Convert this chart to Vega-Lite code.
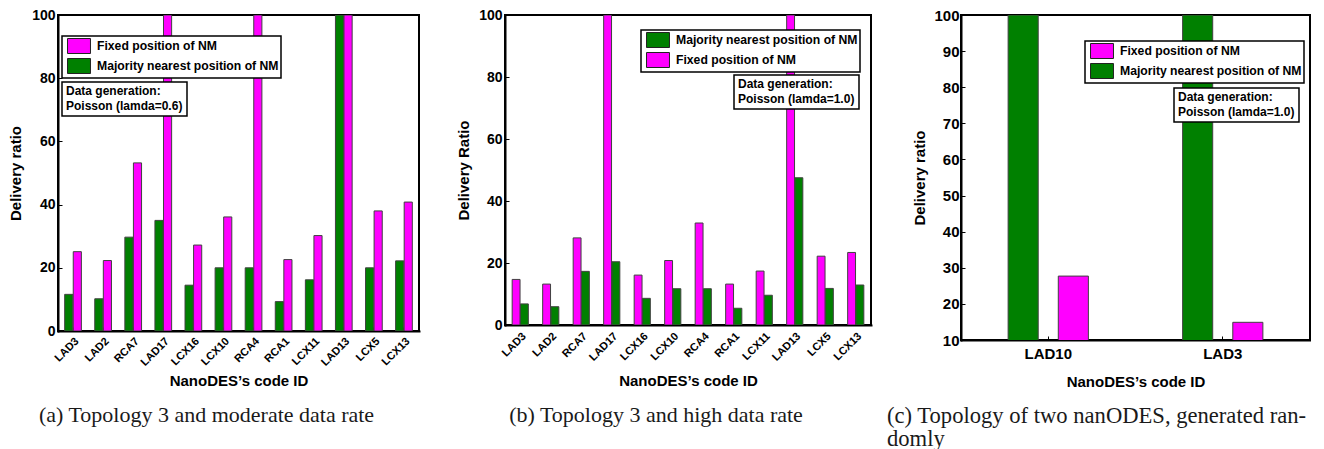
{
  "$schema": "https://vega.github.io/schema/vega-lite/v6.json",
  "padding": {"left": 7, "top": 7, "right": 0, "bottom": 0},
  "datasets": {
    "a": [
      {"id": "LAD3", "series": "Majority nearest position of NM", "value": 11.6},
      {"id": "LAD3", "series": "Fixed position of NM", "value": 25.1},
      {"id": "LAD2", "series": "Majority nearest position of NM", "value": 10.2},
      {"id": "LAD2", "series": "Fixed position of NM", "value": 22.3},
      {"id": "RCA7", "series": "Majority nearest position of NM", "value": 29.7},
      {"id": "RCA7", "series": "Fixed position of NM", "value": 53.2},
      {"id": "LAD17", "series": "Majority nearest position of NM", "value": 35.0},
      {"id": "LAD17", "series": "Fixed position of NM", "value": 100},
      {"id": "LCX16", "series": "Majority nearest position of NM", "value": 14.5},
      {"id": "LCX16", "series": "Fixed position of NM", "value": 27.2},
      {"id": "LCX10", "series": "Majority nearest position of NM", "value": 20.0},
      {"id": "LCX10", "series": "Fixed position of NM", "value": 36.1},
      {"id": "RCA4", "series": "Majority nearest position of NM", "value": 20.0},
      {"id": "RCA4", "series": "Fixed position of NM", "value": 100},
      {"id": "RCA1", "series": "Majority nearest position of NM", "value": 9.3},
      {"id": "RCA1", "series": "Fixed position of NM", "value": 22.6},
      {"id": "LCX11", "series": "Majority nearest position of NM", "value": 16.2},
      {"id": "LCX11", "series": "Fixed position of NM", "value": 30.2},
      {"id": "LAD13", "series": "Majority nearest position of NM", "value": 100},
      {"id": "LAD13", "series": "Fixed position of NM", "value": 100},
      {"id": "LCX5", "series": "Majority nearest position of NM", "value": 20.0},
      {"id": "LCX5", "series": "Fixed position of NM", "value": 38.0},
      {"id": "LCX13", "series": "Majority nearest position of NM", "value": 22.2},
      {"id": "LCX13", "series": "Fixed position of NM", "value": 40.8}
    ],
    "b": [
      {"id": "LAD3", "series": "Fixed position of NM", "value": 14.7},
      {"id": "LAD3", "series": "Majority nearest position of NM", "value": 6.8},
      {"id": "LAD2", "series": "Fixed position of NM", "value": 13.2},
      {"id": "LAD2", "series": "Majority nearest position of NM", "value": 5.9},
      {"id": "RCA7", "series": "Fixed position of NM", "value": 28.1},
      {"id": "RCA7", "series": "Majority nearest position of NM", "value": 17.3},
      {"id": "LAD17", "series": "Fixed position of NM", "value": 100},
      {"id": "LAD17", "series": "Majority nearest position of NM", "value": 20.4},
      {"id": "LCX16", "series": "Fixed position of NM", "value": 16.1},
      {"id": "LCX16", "series": "Majority nearest position of NM", "value": 8.6},
      {"id": "LCX10", "series": "Fixed position of NM", "value": 20.8},
      {"id": "LCX10", "series": "Majority nearest position of NM", "value": 11.7},
      {"id": "RCA4", "series": "Fixed position of NM", "value": 32.9},
      {"id": "RCA4", "series": "Majority nearest position of NM", "value": 11.7},
      {"id": "RCA1", "series": "Fixed position of NM", "value": 13.2},
      {"id": "RCA1", "series": "Majority nearest position of NM", "value": 5.4},
      {"id": "LCX11", "series": "Fixed position of NM", "value": 17.4},
      {"id": "LCX11", "series": "Majority nearest position of NM", "value": 9.6},
      {"id": "LAD13", "series": "Fixed position of NM", "value": 100},
      {"id": "LAD13", "series": "Majority nearest position of NM", "value": 47.5},
      {"id": "LCX5", "series": "Fixed position of NM", "value": 22.2},
      {"id": "LCX5", "series": "Majority nearest position of NM", "value": 11.8},
      {"id": "LCX13", "series": "Fixed position of NM", "value": 23.4},
      {"id": "LCX13", "series": "Majority nearest position of NM", "value": 12.9}
    ],
    "c": [
      {"id": "LAD10", "series": "Majority nearest position of NM", "value": 100},
      {"id": "LAD10", "series": "Fixed position of NM", "value": 27.7},
      {"id": "LAD3", "series": "Majority nearest position of NM", "value": 100},
      {"id": "LAD3", "series": "Fixed position of NM", "value": 14.9}
    ]
  },
  "spacing": 14,
  "resolve": {"scale": {"color": "independent", "shape": "independent", "xOffset": "independent"}, "legend": {"color": "independent", "shape": "independent"}},
  "hconcat": [
    {
      "spacing": 35,
      "resolve": {"scale": {"color": "independent", "shape": "independent", "xOffset": "independent"}, "legend": {"color": "independent", "shape": "independent"}},
      "hconcat": [
        {
          "width": 361,
          "height": 316,
          "title": {"text": "(a) Topology 3 and moderate data rate", "dx": -32, "offset": 17},
          "layer": [
            {
              "data": {"name": "a"},
              "mark": {"type": "bar", "stroke": "#404040", "strokeWidth": 1, "clip": true},
              "encoding": {
                "x": {"field": "id", "type": "nominal", "sort": null,
                  "scale": {"paddingInner": 0.445, "paddingOuter": 0.222},
                  "axis": {"orient": "bottom", "title": "NanoDES’s code ID", "labelAngle": -45, "labelFontSize": 11, "tickSize": -4, "labelPadding": 8, "titleFontSize": 15, "titlePadding": 6, "bandPosition": 0.5}},
                "xOffset": {"field": "series", "sort": ["Majority nearest position of NM", "Fixed position of NM"], "scale": {"paddingInner": 0.05}},
                "y": {"field": "value", "type": "quantitative", "scale": {"domain": [0, 100], "nice": false},
                  "axis": {"orient": "left", "title": "Delivery ratio", "values": [0, 20, 40, 60, 80, 100], "labelFontSize": 14, "tickSize": -4, "labelPadding": 7, "titleFontSize": 15, "titlePadding": 8}},
                "color": {"field": "series", "type": "nominal",
                  "scale": {"domain": ["Fixed position of NM", "Majority nearest position of NM"], "range": ["#FF00FF", "#008000"]},
                  "legend": {"orient": "none", "legendX": 4, "legendY": 21, "title": null}}
              }
            },
            {
              "data": {"values": [{"note": "Poisson (lamda=0.6)"}]},
              "mark": {"type": "point", "opacity": 0},
              "encoding": {
                "shape": {"field": "note", "type": "nominal", "legend": {"orient": "none", "legendX": 4, "legendY": 67, "title": "Data generation:", "symbolSize": 0, "symbolOpacity": 0, "symbolStrokeWidth": 0, "symbolOffset": 0, "labelOffset": -12, "padding": 4, "titlePadding": 2, "rowPadding": 0, "labelFontSize": 12}}
              }
            }
          ]
        },
        {
          "width": 366,
          "height": 310,
          "title": {"text": "(b) Topology 3 and high data rate", "dx": -32, "offset": 17},
          "layer": [
            {
              "data": {"name": "b"},
              "mark": {"type": "bar", "stroke": "#404040", "strokeWidth": 1, "clip": true},
              "encoding": {
                "x": {"field": "id", "type": "nominal", "sort": null,
                  "scale": {"paddingInner": 0.47, "paddingOuter": 0.235},
                  "axis": {"orient": "bottom", "title": "NanoDES’s code ID", "labelAngle": -45, "labelFontSize": 11, "tickSize": -4, "labelPadding": 9, "titleFontSize": 15, "titlePadding": 11, "bandPosition": 0.5}},
                "xOffset": {"field": "series", "sort": ["Fixed position of NM", "Majority nearest position of NM"], "scale": {"paddingInner": 0.05}},
                "y": {"field": "value", "type": "quantitative", "scale": {"domain": [0, 100], "nice": false},
                  "axis": {"orient": "left", "title": "Delivery Ratio", "values": [0, 20, 40, 60, 80, 100], "labelFontSize": 14, "tickSize": -4, "labelPadding": 7, "titleFontSize": 15, "titlePadding": 7}},
                "color": {"field": "series", "type": "nominal",
                  "scale": {"domain": ["Majority nearest position of NM", "Fixed position of NM"], "range": ["#008000", "#FF00FF"]},
                  "legend": {"orient": "none", "legendX": 136, "legendY": 15, "title": null}}
              }
            },
            {
              "data": {"values": [{"note": "Poisson (lamda=1.0)"}]},
              "mark": {"type": "point", "opacity": 0},
              "encoding": {
                "shape": {"field": "note", "type": "nominal", "legend": {"orient": "none", "legendX": 229, "legendY": 60, "title": "Data generation:", "symbolSize": 0, "symbolOpacity": 0, "symbolStrokeWidth": 0, "symbolOffset": 0, "labelOffset": -12, "padding": 4, "titlePadding": 2, "rowPadding": 0, "labelFontSize": 12}}
              }
            }
          ]
        }
      ]
    },
    {
      "width": 349,
      "height": 325,
      "title": {"text": ["(c) Topology of two nanODES, generated ran-", "domly"], "anchor": "start", "align": "left", "dx": -74, "lineHeight": 23, "offset": 16, "fontSize": 22.6},
      "layer": [
        {
          "data": {"name": "c"},
          "mark": {"type": "bar", "stroke": "#404040", "strokeWidth": 1, "clip": true},
          "encoding": {
            "x": {"field": "id", "type": "nominal", "sort": null,
              "scale": {"paddingInner": 0.54, "paddingOuter": 0.27},
              "axis": {"orient": "bottom", "title": "NanoDES’s code ID", "labelAngle": 0, "labelFontSize": 15, "tickSize": -4, "labelPadding": 10, "titleFontSize": 15, "titlePadding": 13, "bandPosition": 0.5}},
            "xOffset": {"field": "series", "sort": ["Majority nearest position of NM", "Fixed position of NM"], "scale": {"paddingInner": 0.4}},
            "y": {"field": "value", "type": "quantitative", "scale": {"domain": [10, 100], "nice": false},
              "axis": {"orient": "left", "title": "Delivery ratio", "values": [10, 20, 30, 40, 50, 60, 70, 80, 90, 100], "labelFontSize": 15, "tickSize": -4, "labelPadding": 6, "titleFontSize": 15, "titlePadding": 6}},
            "color": {"field": "series", "type": "nominal",
              "scale": {"domain": ["Fixed position of NM", "Majority nearest position of NM"], "range": ["#FF00FF", "#008000"]},
              "legend": {"orient": "none", "legendX": 124, "legendY": 26, "title": null}}
          }
        },
        {
          "data": {"values": [{"note": "Poisson (lamda=1.0)"}]},
          "mark": {"type": "point", "opacity": 0},
          "encoding": {
            "shape": {"field": "note", "type": "nominal", "legend": {"orient": "none", "legendX": 213, "legendY": 73, "title": "Data generation:", "symbolSize": 0, "symbolOpacity": 0, "symbolStrokeWidth": 0, "symbolOffset": 0, "labelOffset": -12, "padding": 4, "titlePadding": 2, "rowPadding": 0, "labelFontSize": 12}}
          }
        }
      ]
    }
  ],
  "config": {
    "view": {"stroke": "black", "strokeWidth": 2},
    "axis": {"domain": true, "domainColor": "black", "domainWidth": 2, "domainCap": "square", "ticks": true, "tickColor": "black", "tickWidth": 1, "grid": false, "labelColor": "black", "titleColor": "black", "labelFont": "Liberation Sans", "titleFont": "Liberation Sans", "labelFontWeight": "bold", "titleFontWeight": "bold", "zindex": 1},
    "legend": {"direction": "vertical", "strokeColor": "black", "strokeWidth": 1.5, "fillColor": "white", "padding": 2, "symbolType": "M-1.53,-1H1.53V1H-1.53Z", "symbolSize": 225, "symbolOffset": 7, "symbolStrokeColor": "#222", "symbolStrokeWidth": 1, "symbolOpacity": 1, "labelFont": "Liberation Sans", "labelFontSize": 12.2, "labelFontWeight": "bold", "labelColor": "black", "labelOffset": 10, "labelLimit": 400, "rowPadding": 0, "titleFont": "Liberation Sans", "titleFontSize": 12, "titleFontWeight": "bold", "titleColor": "black"},
    "title": {"orient": "bottom", "anchor": "middle", "frame": "group", "offset": 17, "font": "Liberation Serif", "fontSize": 22, "fontWeight": "normal", "color": "#1a1a1a"}
  }
}
